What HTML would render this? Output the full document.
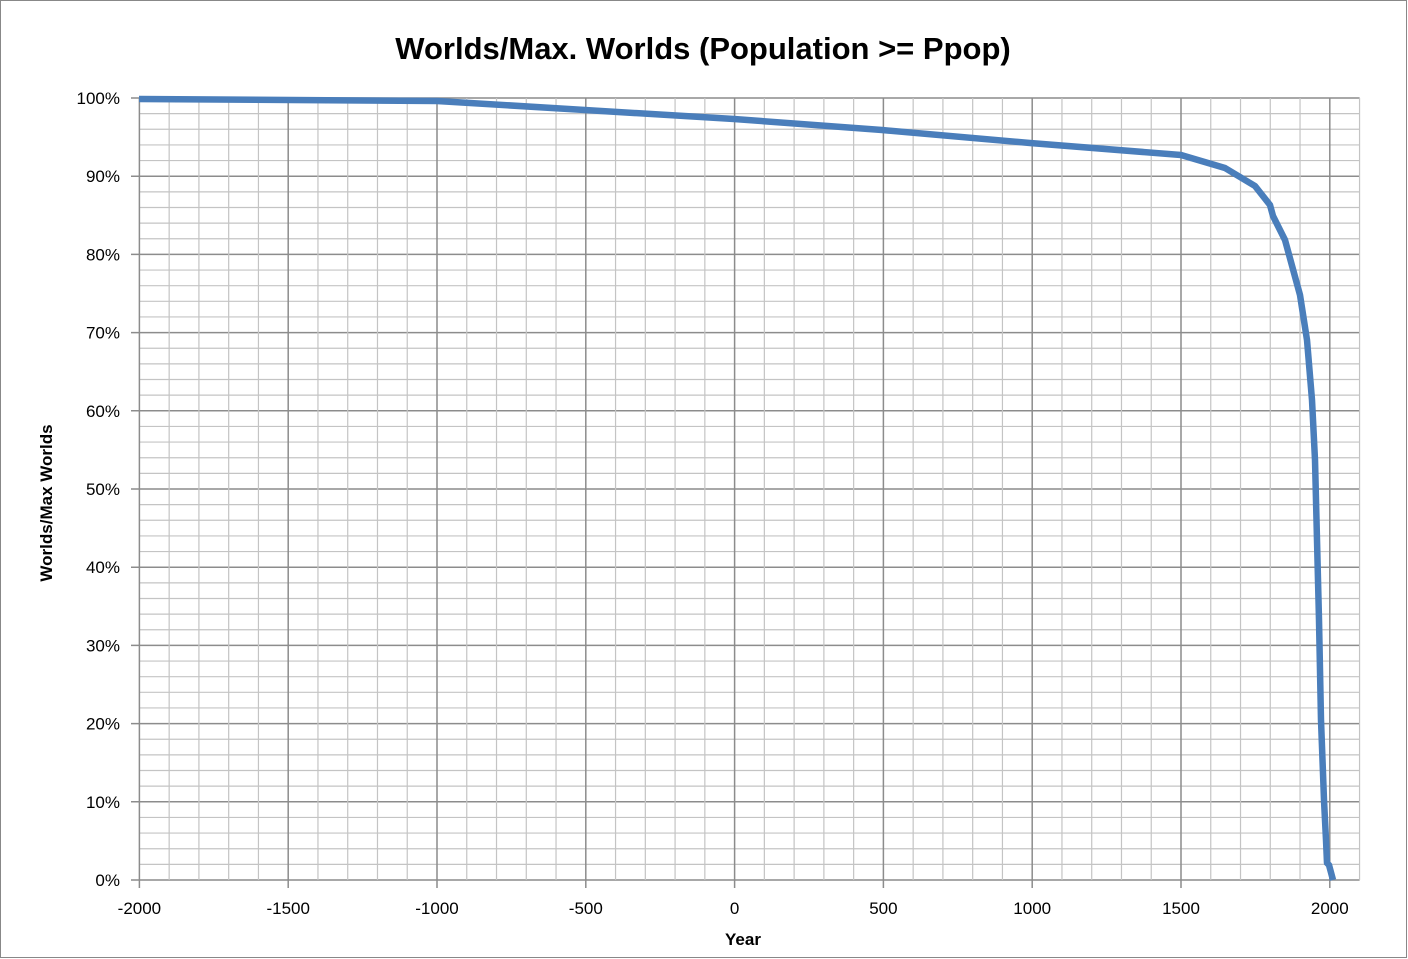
<!DOCTYPE html>
<html><head><style>
body{margin:0;background:#fff;}
svg{display:block;font-family:"Liberation Sans",sans-serif;}
</style></head><body>
<svg width="1408" height="959" xmlns="http://www.w3.org/2000/svg">
<rect x="0.5" y="0.5" width="1406" height="957" fill="#fff" stroke="#888"/>
<text x="703" y="59" text-anchor="middle" font-size="31" font-weight="bold">Worlds/Max. Worlds (Population &gt;= Ppop)</text>
<g id="grid"></g>
<polyline fill="none" stroke="#4a7ebb" stroke-width="6.5" stroke-linejoin="round" points="139,99 437,101 585,110 734,119 882,130 1030,143 1181,155 1225,168 1255,186 1270,205 1273,216 1285,240 1300,295 1307,340 1312,400 1315,460 1317,540 1319,620 1321,720 1324,800 1326,840 1327,863 1329,865 1333,880"/>
<text x="743" y="945" text-anchor="middle" font-size="17" font-weight="bold">Year</text>
<text transform="translate(52,503) rotate(-90)" text-anchor="middle" font-size="17" font-weight="bold">Worlds/Max Worlds</text>
</svg>
<script>
const g=document.getElementById('grid');let s='';
const L=139,R=1359.6,T=98,B=880;
for(let i=0;i<=50;i++){const y=B-(B-T)*i/50;const maj=i%5==0;
 s+=`<line x1="${maj?131:L}" x2="${R}" y1="${y}" y2="${y}" stroke="${maj?'#8c8c8c':'#c4c4c4'}" stroke-width="${maj?1.5:1.2}"/>`;
 if(maj)s+=`<text x="120" y="${y+6}" text-anchor="end" font-size="17">${i*2}%</text>`;}
for(let yr=-2000;yr<=2100;yr+=100){const x=734.6+0.2976*yr;const maj=yr%500==0;
 s+=`<line x1="${x}" x2="${x}" y1="${T}" y2="${maj?888:B}" stroke="${maj?'#8c8c8c':'#c4c4c4'}" stroke-width="${maj?1.5:1.2}"/>`;
 if(maj)s+=`<text x="${x}" y="914" text-anchor="middle" font-size="17">${yr}</text>`;}
g.innerHTML=s;
</script>
</body></html>
